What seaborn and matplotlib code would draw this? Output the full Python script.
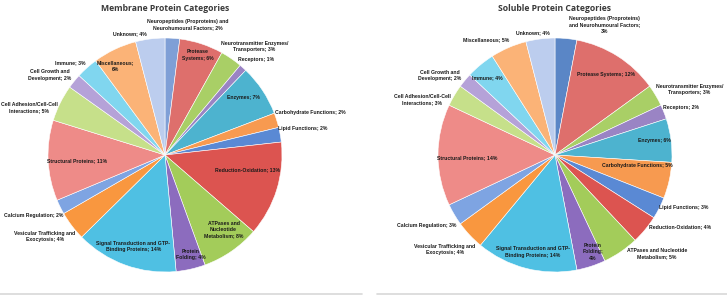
import numpy as np
import seaborn as sns
import matplotlib
matplotlib.use('Agg')
import matplotlib.pyplot as plt
from matplotlib.lines import Line2D

sns.set_style("white")
plt.rcParams['font.family'] = ['Liberation Sans Narrow', 'Liberation Sans', 'DejaVu Sans']

# categories, clockwise from the top of each pie
categories = ["Neuropeptides", "Protease Systems", "Neurotransmitter Enzymes/Transporters",
              "Receptors", "Enzymes", "Carbohydrate Functions", "Lipid Functions",
              "Reduction-Oxidation", "ATPases and Nucleotide Metabolism", "Protein Folding",
              "Signal Transduction and GTP-Binding Proteins", "Vesicular Trafficking and Exocytosis",
              "Calcium Regulation", "Structural Proteins", "Cell Adhesion/Cell-Cell Interactions",
              "Cell Growth and Development", "Immune", "Miscellaneous", "Unknown"]

membrane_pct = [2, 6, 3, 1, 7, 2, 2, 13, 8, 4, 14, 4, 2, 11, 5, 2, 3, 6, 4]
soluble_pct = [3, 12, 3, 2, 6, 5, 3, 4, 5, 4, 14, 4, 3, 14, 3, 2, 4, 5, 4]

# label text as it is wrapped on the chart
membrane_labels = ["Neuropeptides (Proproteins) and\nNeurohumoural Factors; {}%",
                   "Protease\nSystems; {}%", "Neurotransmitter Enzymes/\nTransporters; {}%",
                   "Receptors; {}%", "Enzymes; {}%", "Carbohydrate Functions; {}%",
                   "Lipid Functions; {}%", "Reduction-Oxidation; {}%",
                   "ATPases and\nNucleotide\nMetabolism; {}%", "Protein\nFolding; {}%",
                   "Signal Transduction and GTP-\nBinding Proteins; {}%",
                   "Vesicular Trafficking and\nExocytosis; {}%", "Calcium Regulation; {}%",
                   "Structural Proteins; {}%", "Cell Adhesion/Cell-Cell\nInteractions; {}%",
                   "Cell Growth and\nDevelopment; {}%", "Immune; {}%",
                   "Miscellaneous;\n{}%", "Unknown; {}%"]
soluble_labels = ["Neuropeptides (Proproteins)\nand Neurohumoural Factors;\n{}%",
                  "Protease Systems; {}%", "Neurotransmitter Enzymes/\nTransporters; {}%",
                  "Receptors; {}%", "Enzymes; {}%", "Carbohydrate Functions; {}%",
                  "Lipid Functions; {}%", "Reduction-Oxidation; {}%",
                  "ATPases and Nucleotide\nMetabolism; {}%", "Protein\nFolding;\n{}%",
                  "Signal Transduction and GTP-\nBinding Proteins; {}%",
                  "Vesicular Trafficking and\nExocytosis; {}%", "Calcium Regulation; {}%",
                  "Structural Proteins; {}%", "Cell Adhesion/Cell-Cell\nInteractions; {}%",
                  "Cell Growth and\nDevelopment; {}%", "Immune; {}%",
                  "Miscellaneous; {}%", "Unknown; {}%"]

# label placement: radial distance (pie radius = 1) and angle nudge in degrees
membrane_dist = [1.13, 0.9, 1.2, 1.13, 0.83, 1.29, 1.2, 0.72, 0.81, 0.88,
                 0.83, 1.24, 1.24, 0.75, 1.23, 1.2, 1.13, 0.87, 1.08]
membrane_nudge = [6.4, 0, 5, 2, -2.6, 1, -1, -7, -3.6, -1.6,
                  -1, 3, 1.6, -1, -7, -4.4, -4, -3.5, -8.7]
soluble_dist = [1.19, 0.81, 1.28, 1.15, 0.86, 0.71, 1.19, 1.23, 1.21, 0.89,
                0.85, 1.24, 1.25, 0.75, 1.23, 1.2, 0.88, 1.15, 1.06]
soluble_nudge = [15.6, 0, 4.6, 1, -1, -5.6, -5, -9.6, -11.8, -3.4,
                 -1.6, 2.7, 1.6, -2, -8, -5, -1.4, -7.6, -3]

colors = ["#7f9fd6", "#de6f6c", "#a9cf66", "#9a84c4", "#4db3cf", "#f79a50",
          "#5a89d4", "#dc5450", "#a3cc5a", "#8c6cbe", "#4fc0e3", "#f9973f",
          "#7ea4e2", "#ee8b88", "#c6e08a", "#b5a2d8", "#80d6ef", "#fbb377", "#bccdee"]
soluble_colors = ["#5a86c6"] + colors[1:]

fig = plt.figure(figsize=(7.27, 2.98), dpi=100)

R = 117.0  # pie radius in pixels
panels = [
    ("Membrane Protein Categories", membrane_pct, membrane_labels, membrane_dist,
     membrane_nudge, colors, (0, 363), 165),
    ("Soluble Protein Categories", soluble_pct, soluble_labels, soluble_dist,
     soluble_nudge, soluble_colors, (363, 727), 555),
]

for title, vals, labs, dists, nudges, cols, (x0, x1), cx in panels:
    ax = fig.add_axes([x0 / 727, 0, (x1 - x0) / 727, 1])
    wedges, _ = ax.pie(vals, colors=cols, startangle=90, counterclock=False, radius=1,
                       wedgeprops=dict(edgecolor="white", linewidth=0.4))
    cy = 155
    ax.set_xlim(-(cx - x0) / R, (x1 - cx) / R)
    ax.set_ylim(-(298 - cy) / R, cy / R)
    ax.set_aspect('auto')
    ax.axis('off')
    for w, v, lab, d, nd in zip(wedges, vals, labs, dists, nudges):
        a = np.deg2rad(90 - (w.theta1 + w.theta2) / 2 + nd)
        ax.text(d * np.sin(a), d * np.cos(a), lab.format(v), ha='center', va='center',
                fontsize=3.7, fontweight='bold', color='#1a1a1a', linespacing=1.3)
    ax.text(0, (cy - 9) / R, title, ha='center', va='center', fontsize=6.2,
            fontweight='bold', color='#3a3a3a', family=['Open Sans', 'DejaVu Sans'])

# thin grey rules under each panel
fig.add_artist(Line2D([0, 362 / 727], [4 / 298, 4 / 298], color='#d8d8d8', lw=1.2))
fig.add_artist(Line2D([377 / 727, 1], [4 / 298, 4 / 298], color='#d8d8d8', lw=1.2))

fig.savefig("out.png", dpi=100)
